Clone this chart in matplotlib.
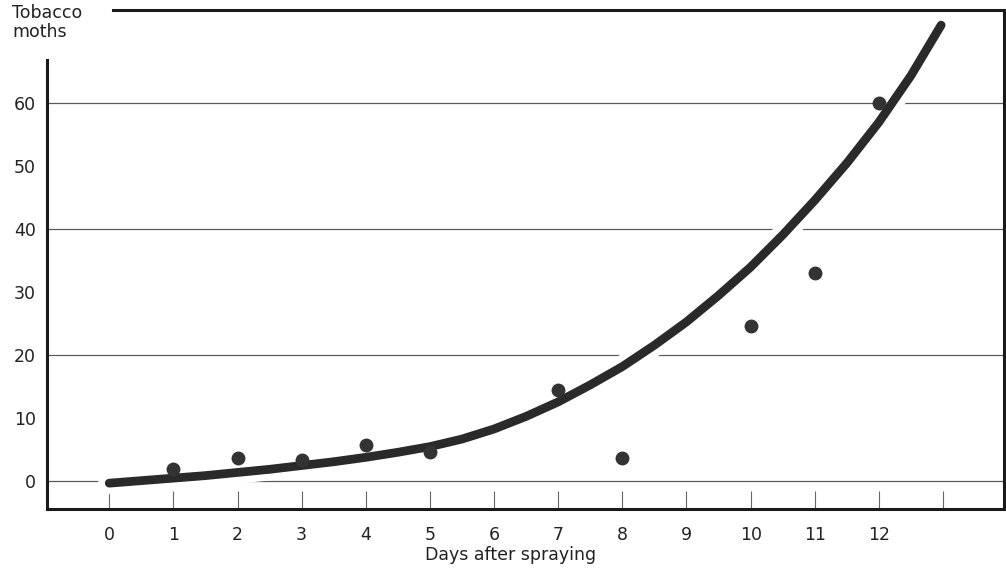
import matplotlib
matplotlib.use("Agg")
import matplotlib.pyplot as plt
import matplotlib.patheffects as pe

# observed counts (dots)
obs_days = [1, 2, 3, 4, 5, 7, 8, 10, 11, 12]
obs_moths = [1.9, 3.7, 3.3, 5.8, 4.7, 14.5, 3.7, 24.7, 33.0, 60.0]

# fitted curve
curve_days = [0, 0.5, 1, 1.5, 2, 2.5, 3, 3.5, 4, 4.5, 5, 5.5, 6, 6.5,
              7, 7.5, 8, 8.5, 9, 9.5, 10, 10.5, 11, 11.5, 12, 12.5, 12.97]
curve_moths = [-0.3, 0.1, 0.5, 0.9, 1.4, 1.9, 2.5, 3.1, 3.8, 4.6, 5.5, 6.7,
               8.3, 10.3, 12.6, 15.3, 18.2, 21.6, 25.3, 29.5, 34.0, 39.1,
               44.6, 50.5, 57.0, 64.4, 72.4]

x_ticks = list(range(0, 14))
x_labels = [str(d) for d in range(0, 13)] + [""]
y_ticks = [0, 10, 20, 30, 40, 50, 60]
grid_vals = [0, 20, 40, 60]

ink = "#2a2a2a"
txt = "#222222"

fig = plt.figure(figsize=(10.06, 5.70), dpi=100)
ax = fig.add_axes([47 / 1006, 1 - 509 / 570, 957 / 1006, 499 / 570])
ax.set_xlim(-0.97, 13.95)
ax.set_ylim(-4.4, 74.8)

for g in grid_vals:
    ax.axhline(g, color="#5a5a5a", lw=0.9, zorder=1)

# white halo breaks the grid lines where the curve crosses, like the original drawing
ax.plot(curve_days, curve_moths, color=ink, lw=6.3, solid_capstyle="round",
        solid_joinstyle="round", zorder=3,
        path_effects=[pe.Stroke(linewidth=16, foreground="white"), pe.Normal()])
ax.plot(obs_days, obs_moths, "o", color="#333333", ms=10, mec="none", zorder=4)

ax.set_xticks(x_ticks)
ax.set_xticklabels(x_labels)
ax.set_yticks(y_ticks)
ax.tick_params(axis="x", direction="in", length=13, width=0.8, color="#666666",
               pad=12, labelsize=12.5, labelcolor=txt)
ax.tick_params(axis="y", length=0, pad=8, labelsize=12.5, labelcolor=txt)

for s in ax.spines.values():
    s.set_linewidth(2.2)
    s.set_color("#1a1a1a")
ax.spines["left"].set_bounds(-4.4, 66.8)
ax.spines["top"].set_bounds(0.06, 13.95)

ax.set_xlabel("Days after spraying", fontsize=12.5, color=txt, labelpad=2)
ax.xaxis.label.set_x(0.484)

fig.text(12 / 1006, 1 - 4 / 570, "Tobacco\nmoths", ha="left", va="top",
         fontsize=12.5, color=txt, linespacing=1.05)

fig.savefig("out.png", dpi=100, facecolor="white")
